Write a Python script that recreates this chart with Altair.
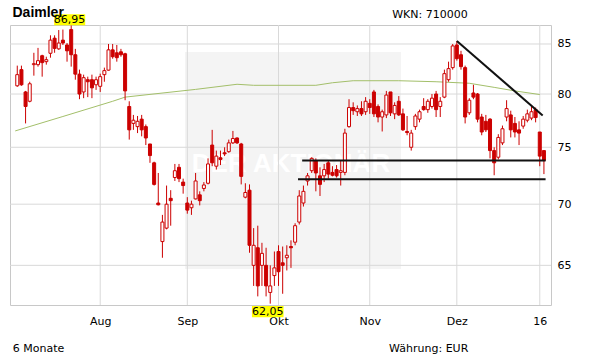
import altair as alt
import pandas as pd

RED = "#cc0000"
GRID = "#d9d9d9"

# ---- candle data (trading-day index 0 = 6 Jul 2015) ----
opens = [80.8, 82.4, 80.2, 79.3, 82.9, 82.9, 83.8, 83.2, 84.05, 85.6,
         84.5, 85.4, 84.9, 86.5, 83.9, 81.95, 80.2, 81.4, 81.4, 80.9,
         80.75, 81.9, 82.35, 84.4, 84.1, 84.2, 84.0, 78.8, 77.2, 76.9,
         77.6, 76.9, 75.3, 73.6, 70.1, 66.9, 68.0, 70.5, 72.3, 73.2,
         71.9, 70.1, 69.7, 70.45, 70.8, 71.35, 71.8, 75.2, 73.3, 74.05,
         74.5, 74.6, 75.4, 75.85, 75.3, 70.6, 71.2, 65.0, 66.4, 65.0,
         65.0, 62.9, 64.2, 66.1, 65.2, 65.6, 66.5, 66.85, 68.5, 70.1,
         72.0, 72.9, 73.8, 72.45, 72.45, 73.6, 72.75, 73.0, 72.75, 72.75,
         76.9, 78.7, 78.3, 78.6, 78.3, 79.1, 80.2, 78.8, 77.8, 78.0,
         80.2, 78.1, 79.3, 78.1, 76.45, 75.0, 76.9, 77.6, 78.8, 78.5,
         78.8, 80.0, 78.8, 79.7, 81.4, 82.6, 84.9, 83.9, 82.6, 78.2,
         80.1, 80.0, 77.8, 77.4, 77.6, 74.7, 74.1, 75.4, 77.8, 78.0,
         77.2, 76.6, 76.95, 77.5, 77.7, 78.5, 76.4, 74.7]
highs = [82.8, 82.8, 80.3, 81.2, 84.1, 84.6, 83.9, 83.7, 85.9, 85.9,
         86.45, 86.5, 85.1, 86.95, 84.5, 82.4, 81.9, 81.7, 81.9, 81.7,
         82.0, 82.6, 85.0, 85.0, 84.9, 84.5, 84.1, 79.3, 78.0, 77.9,
         78.0, 77.1, 75.3, 73.7, 72.7, 69.1, 71.6, 71.2, 73.5, 73.5,
         72.2, 70.6, 70.3, 72.7, 71.1, 71.9, 74.0, 76.6, 74.7, 74.7,
         75.0, 75.7, 76.5, 75.9, 75.4, 71.8, 71.7, 68.0, 68.2, 66.8,
         66.4, 65.0, 66.1, 66.6, 66.5, 66.6, 67.0, 68.4, 71.2, 71.6,
         72.7, 74.1, 74.0, 73.2, 73.5, 73.8, 73.3, 73.4, 73.8, 76.7,
         79.5, 79.2, 78.9, 79.3, 79.7, 79.5, 80.4, 79.0, 78.5, 80.3,
         80.2, 79.2, 79.8, 78.6, 77.9, 76.6, 78.1, 78.5, 79.6, 79.5,
         80.0, 80.3, 79.7, 82.4, 83.2, 85.0, 85.3, 84.3, 82.8, 79.6,
         80.9, 80.1, 78.1, 78.0, 77.7, 75.0, 76.2, 77.0, 79.4, 78.4,
         77.8, 77.4, 77.9, 78.5, 78.9, 78.7, 76.4, 74.7]
lows = [80.7, 80.8, 77.2, 79.2, 81.8, 82.7, 81.7, 82.9, 83.6, 84.1,
        84.4, 84.9, 83.2, 82.7, 81.4, 79.5, 79.6, 79.7, 79.6, 80.4,
        80.2, 81.2, 82.3, 83.5, 83.2, 83.7, 79.4, 75.7, 76.6, 76.3,
        76.0, 75.2, 73.6, 71.6, 69.9, 65.6, 67.9, 68.2, 72.0, 71.9,
        70.9, 69.2, 69.1, 70.4, 69.9, 71.1, 71.7, 73.3, 73.0, 73.4,
        74.2, 74.5, 75.3, 75.3, 71.7, 70.5, 66.0, 63.4, 62.6, 63.4,
        62.6, 62.05, 63.4, 63.4, 62.8, 64.6, 64.8, 66.6, 68.3, 69.8,
        71.6, 72.7, 71.1, 70.7, 71.9, 72.2, 72.4, 72.3, 71.6, 72.5,
        76.8, 78.0, 77.9, 77.9, 78.0, 78.1, 77.8, 77.3, 76.45, 77.7,
        77.9, 77.6, 77.9, 76.5, 76.1, 74.7, 76.6, 77.3, 78.4, 78.2,
        78.6, 77.8, 77.8, 79.6, 81.2, 82.4, 83.3, 82.4, 77.2, 78.0,
        79.5, 77.3, 76.1, 76.4, 74.0, 72.5, 73.9, 75.2, 77.4, 75.9,
        75.9, 75.2, 76.7, 77.3, 77.5, 77.3, 73.3, 72.6]
closes = [81.9, 80.9, 78.8, 81.0, 83.0, 83.3, 83.1, 83.4, 85.4, 84.55,
          85.1, 85.1, 84.3, 83.9, 81.95, 80.0, 81.6, 81.2, 80.6, 81.4,
          81.7, 82.3, 84.4, 83.7, 83.6, 83.9, 80.3, 76.6, 77.5, 77.4,
          76.6, 75.85, 74.25, 71.7, 69.95, 68.5, 70.0, 70.3, 72.9, 72.2,
          71.6, 69.5, 70.0, 72.0, 70.3, 71.65, 73.5, 73.6, 74.2, 73.9,
          74.4, 75.4, 75.8, 75.4, 72.4, 71.0, 66.6, 66.6, 63.4, 65.95,
          63.4, 63.4, 64.8, 64.5, 65.0, 65.8, 66.4, 68.2, 70.7, 71.1,
          72.45, 74.0, 72.7, 71.7, 73.0, 72.6, 72.5, 72.45, 72.9, 76.3,
          78.7, 78.4, 78.6, 78.1, 79.3, 78.7, 78.1, 77.8, 78.3, 79.9,
          78.2, 78.9, 78.0, 76.6, 76.35, 76.3, 77.9, 78.3, 78.5, 79.3,
          79.6, 78.5, 79.3, 82.0, 82.5, 84.8, 83.5, 82.7, 77.8, 79.4,
          79.7, 77.6, 76.4, 76.6, 74.7, 73.6, 75.9, 76.7, 78.6, 76.6,
          76.4, 76.3, 77.6, 78.1, 78.3, 77.75, 74.2, 73.8]

# ---- moving average (read at sparse points) ----
ma_pos = [-0.5, 11, 23, 26, 43, 53, 57, 72, 76, 81, 92, 101, 109, 115, 120, 126]
ma_val = [76.5, 77.85, 79.3, 79.7, 80.45, 80.95, 80.85, 80.85, 81.1, 81.3,
          81.3, 81.2, 81.05, 80.65, 80.3, 79.95]

# ---- drawn lines ----
trend_x = [106, 126.7]
trend_y = [85.3, 77.95]
support_start = [68.7, 67.7]
support_end = [127.4, 127.4]
support_val = [73.8, 72.15]

# ---- axes ----
month_pos = [20, 41, 63, 85, 106, 126]
month_labels = ["Aug", "Sep", "Okt", "Nov", "Dez", "16"]
y_ticks = [65, 70, 75, 80, 85]

# ---- highlighted extremes ----
hi_idx, hi_val, hi_text = 13, 86.95, "86,95"
lo_idx, lo_val, lo_text = 61, 62.05, "62,05"

FONT = "DejaVu Sans"

df = pd.DataFrame({"i": list(range(len(opens))), "open": opens, "high": highs,
                   "low": lows, "close": closes})
df["body_lo"] = df[["open", "close"]].min(axis=1)
df["body_hi"] = df[["open", "close"]].max(axis=1)

xscale = alt.Scale(domain=[-0.55, 127.5], nice=False, zero=False)
yscale = alt.Scale(type="log", domain=[61.95, 86.98], nice=False, zero=False)

label_expr = " : ".join(f"datum.value == {p} ? '{l}'" for p, l in zip(month_pos, month_labels)) + " : ''"
xaxis = alt.Axis(values=month_pos, labelExpr=label_expr, grid=False, ticks=False, tickSize=0,
                 domain=False, title=None, labelPadding=10, labelFont=FONT, labelFontSize=11,
                 labelColor="#000000", labelFlush=False, labelOverlap=False)
yaxis = alt.Axis(orient="right", values=y_ticks, format="d", grid=False, ticks=False, tickSize=0,
                 domain=False, title=None, labelPadding=6, labelFont=FONT, labelFontSize=11,
                 labelColor="#000000", labelFlush=False, labelOverlap=False)


def X(f):
    return alt.X(f"{f}:Q", scale=xscale, axis=xaxis)


def Y(f):
    return alt.Y(f"{f}:Q", scale=yscale, axis=yaxis)


one = pd.DataFrame({"a": [0]})

watermark = alt.Chart(one).mark_rect(color="#f4f4f4").encode(
    x=alt.value(175), x2=alt.value(391), y=alt.value(27), y2=alt.value(244))
watermark_text = alt.Chart(one).mark_text(
    text="DER AKTIONÄR", font="Liberation Sans", fontWeight="bold", fontSize=26,
    color="#ffffff", align="center", baseline="alphabetic").encode(
    x=alt.value(281), y=alt.value(146.5))

hgrid = alt.Chart(pd.DataFrame({"v": y_ticks})).mark_rule(color=GRID, strokeWidth=1).encode(y=Y("v"))
vgrid = alt.Chart(pd.DataFrame({"p": month_pos})).mark_rule(color=GRID, strokeWidth=1).encode(x=X("p"))

ma = alt.Chart(pd.DataFrame({"p": ma_pos, "v": ma_val})).mark_line(
    color="#a3bf6a", strokeWidth=1, clip=True).encode(x=X("p"), y=Y("v"))

wicks = alt.Chart(df).mark_rule(color=RED, strokeWidth=1).encode(
    x=X("i"), y=Y("low"), y2="high")
bodies = alt.Chart(df).mark_bar(size=3, stroke=RED, strokeWidth=1).encode(
    x=X("i"), y=Y("body_lo"), y2="body_hi",
    fill=alt.condition("datum.close >= datum.open", alt.value("#ffffff"), alt.value(RED)))

trend = alt.Chart(pd.DataFrame({"x0": [trend_x[0]], "x1": [trend_x[1]],
                                "y0": [trend_y[0]], "y1": [trend_y[1]]})).mark_rule(
    color="#111111", strokeWidth=2).encode(x=X("x0"), x2="x1", y=Y("y0"), y2="y1")
support = alt.Chart(pd.DataFrame({"s": support_start, "e": support_end, "v": support_val})).mark_rule(
    color="#111111", strokeWidth=2).encode(x=X("s"), x2="e", y=Y("v"))

hi_df = pd.DataFrame({"i": [hi_idx], "v": [hi_val], "t": [hi_text]})
lo_df = pd.DataFrame({"i": [lo_idx], "v": [lo_val], "t": [lo_text]})
hi_box = alt.Chart(hi_df).mark_rect(color="#ffff00", xOffset=-17, x2Offset=14,
                                    yOffset=-11, y2Offset=0).encode(
    x=X("i"), x2="i", y=Y("v"), y2="v")
hi_txt = alt.Chart(hi_df).mark_text(font=FONT, fontSize=11, color="#000000", dx=-1.7, dy=-5,
                                    align="center", baseline="middle").encode(
    x=X("i"), y=Y("v"), text="t:N")
lo_box = alt.Chart(lo_df).mark_rect(color="#ffff00", xOffset=-18.3, x2Offset=13.3,
                                    yOffset=2.4, y2Offset=13.7).encode(
    x=X("i"), x2="i", y=Y("v"), y2="v")
lo_txt = alt.Chart(lo_df).mark_text(font=FONT, fontSize=11, color="#000000", dx=-2.5, dy=8.6,
                                    align="center", baseline="middle").encode(
    x=X("i"), y=Y("v"), text="t:N")

title = alt.Chart(one).mark_text(text="Daimler", font="Liberation Sans", fontWeight="bold",
                                 fontSize=14, color="#000000", align="left",
                                 baseline="alphabetic").encode(x=alt.value(2.5), y=alt.value(-7.7))
wkn = alt.Chart(one).mark_text(text="WKN: 710000", font=FONT, fontSize=11, color="#000000",
                               align="right", baseline="alphabetic").encode(
    x=alt.value(457.7), y=alt.value(-6.8))
period = alt.Chart(one).mark_text(text="6 Monate", font=FONT, fontSize=11, color="#000000",
                                  align="left", baseline="alphabetic").encode(
    x=alt.value(2.7), y=alt.value(326.7))
currency = alt.Chart(one).mark_text(text="Währung: EUR", font=FONT, fontSize=11, color="#000000",
                                    align="right", baseline="alphabetic").encode(
    x=alt.value(458.3), y=alt.value(326.7))

chart = alt.layer(
    watermark, watermark_text, hgrid, vgrid, ma, wicks, bodies, trend, support,
    hi_box, hi_txt, lo_box, lo_txt, title, wkn, period, currency
).properties(
    width=541, height=280,
    padding={"left": 10, "top": 25, "right": 60, "bottom": 59},
    autosize=alt.AutoSizeParams(type="none"),
    background="#ffffff",
).configure_view(stroke="#c8c8c8", strokeWidth=1)

chart.save("out.html", embed_options={"renderer": "svg", "actions": False})
